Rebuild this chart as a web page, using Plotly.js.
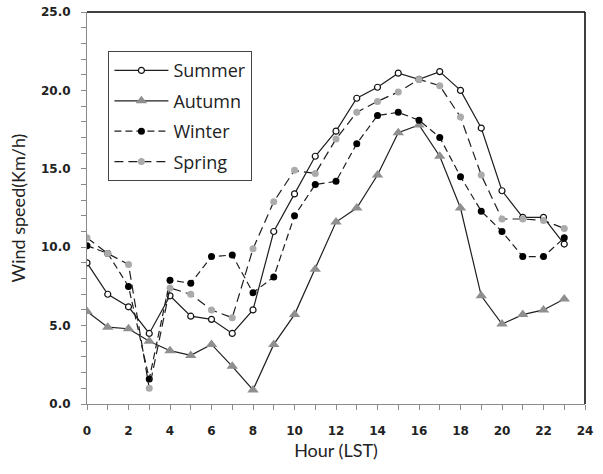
<!DOCTYPE html>
<html>
<head>
<meta charset="utf-8">
<script src="https://cdn.plot.ly/plotly-3.0.1.min.js"></script>
<style>
  html, body { margin: 0; padding: 0; background: #fff; }
  #chart { width: 603px; height: 474px; }
</style>
</head>
<body>
<div id="chart"></div>
<script>
// Hour of day (local standard time)
const hours = [0, 1, 2, 3, 4, 5, 6, 7, 8, 9, 10, 11, 12, 13, 14, 15, 16, 17, 18, 19, 20, 21, 22, 23];

// Mean wind speed (km/h) by season
const summer = [9.0, 7.0, 6.2, 4.5, 6.9, 5.6, 5.4, 4.5, 6.0, 11.0, 13.4, 15.8, 17.4, 19.5, 20.2, 21.1, 20.7, 21.2, 20.0, 17.6, 13.6, 11.9, 11.9, 10.2];
const autumn = [5.9, 4.9, 4.8, 4.0, 3.4, 3.1, 3.8, 2.4, 0.9, 3.8, 5.7, 8.6, 11.6, 12.5, 14.6, 17.3, 17.8, 15.8, 12.5, 6.9, 5.1, 5.7, 6.0, 6.7];
const winter = [10.1, 9.6, 7.5, 1.6, 7.9, 7.7, 9.4, 9.5, 7.1, 8.1, 12.0, 14.0, 14.2, 16.6, 18.4, 18.6, 18.1, 17.0, 14.5, 12.3, 11.0, 9.4, 9.4, 10.6];
const spring = [10.6, 9.6, 8.9, 1.0, 7.4, 7.0, 6.0, 5.5, 9.9, 12.9, 14.9, 14.7, 16.9, 18.6, 19.3, 19.9, 20.7, 20.3, 18.3, 14.6, 11.8, 11.8, 11.7, 11.2];

const seriesNames = ['Summer', 'Autumn', 'Winter', 'Spring'];

const lineColor = '#1e1e1e';
const labelFont = 'Lato, "Open Sans", sans-serif';
const legendFont = '"Open Sans", Lato, sans-serif';
const tickFont = '"DejaVu Sans", Verdana, sans-serif';

const traces = [
  {
    x: hours, y: summer, name: seriesNames[0], legendgroup: 'g1', type: 'scatter', mode: 'lines+markers',
    line: { color: lineColor, width: 1.2 },
    marker: { symbol: 'circle', size: 6, color: '#ffffff', line: { color: '#111', width: 1.2 } }
  },
  {
    x: hours, y: autumn, name: seriesNames[1], legendgroup: 'g2', type: 'scatter', mode: 'lines+markers',
    line: { color: lineColor, width: 1.2 },
    marker: { symbol: 'triangle-up', size: 10, color: '#8f8f8f', line: { width: 0 } }
  },
  {
    x: hours, y: winter, name: seriesNames[2], legendgroup: 'g3', type: 'scatter', mode: 'lines+markers',
    line: { color: lineColor, width: 1.2, dash: '7px,4px' },
    marker: { symbol: 'circle', size: 7, color: '#000000', line: { width: 0 } }
  },
  {
    x: hours, y: spring, name: seriesNames[3], legendgroup: 'g4', type: 'scatter', mode: 'lines+markers',
    line: { color: lineColor, width: 1.2, dash: '9px,5px' },
    marker: { symbol: 'circle', size: 7, color: '#ababab', line: { width: 0 } }
  }
];

const axisGray = '#8a8a8a';

const layout = {
  width: 603,
  height: 474,
  margin: { l: 87, r: 18, t: 12, b: 70 },
  paper_bgcolor: '#ffffff',
  plot_bgcolor: '#ffffff',
  showlegend: true,
  legend: {
    x: 0.043, y: 0.9, xanchor: 'left', yanchor: 'top',
    bgcolor: '#ffffff', bordercolor: '#444444', borderwidth: 1,
    font: { family: legendFont, size: 18, color: '#222' },
    traceorder: 'grouped',
    tracegroupgap: 4,
    itemwidth: 54
  },
  xaxis: {
    range: [0, 24],
    tickmode: 'linear', tick0: 0, dtick: 2,
    ticks: 'outside', ticklen: 5, tickcolor: axisGray, tickwidth: 1,
    minor: { dtick: 1, ticks: 'outside', ticklen: 5, tickcolor: axisGray, showgrid: false },
    showline: true, linecolor: axisGray, linewidth: 1,
    showgrid: false, zeroline: false,
    ticklabelstandoff: 11,
    tickfont: { family: tickFont, size: 12, color: '#222', weight: 'bold' },
    title: { text: 'Hour (LST)', font: { family: labelFont, size: 18, color: '#222' }, standoff: 6 }
  },
  yaxis: {
    range: [0, 25],
    tickmode: 'linear', tick0: 0, dtick: 5,
    tickformat: '.1f',
    ticks: 'outside', ticklen: 5, tickcolor: axisGray, tickwidth: 1,
    minor: { dtick: 1, ticks: 'outside', ticklen: 5, tickcolor: axisGray, showgrid: false },
    showline: true, linecolor: axisGray, linewidth: 1,
    showgrid: false, zeroline: false,
    ticklabelstandoff: 8,
    tickfont: { family: tickFont, size: 12, color: '#222', weight: 'bold' },
    title: { text: 'Wind speed(Km/h)', font: { family: labelFont, size: 18, color: '#222' }, standoff: 10 }
  },
  shapes: [
    // plot-area frame: top and right edges
    { type: 'line', xref: 'paper', yref: 'paper', x0: 0, x1: 1, y0: 1, y1: 1, line: { color: '#000', width: 1.5 } },
    { type: 'line', xref: 'paper', yref: 'paper', x0: 1, x1: 1, y0: 0, y1: 1, line: { color: '#000', width: 1.5 } }
  ]
};

Plotly.newPlot('chart', traces, layout, { displayModeBar: false, staticPlot: true });
</script>
</body>
</html>
